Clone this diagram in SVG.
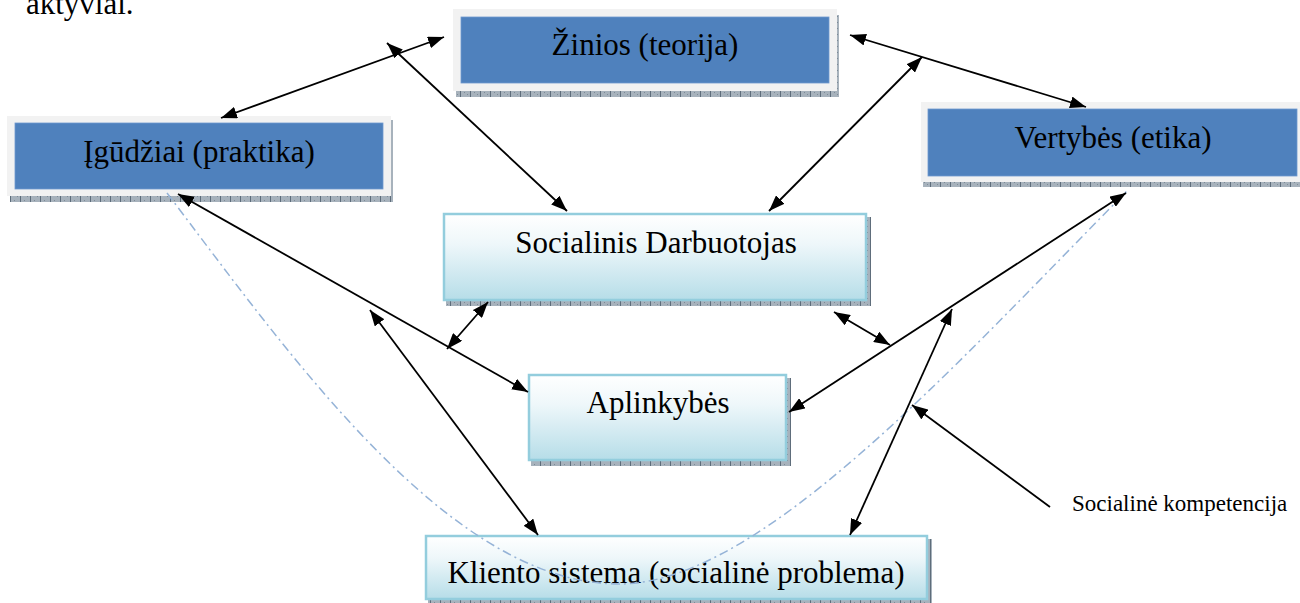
<svg xmlns="http://www.w3.org/2000/svg" width="1300" height="603" viewBox="0 0 1300 603">
<style>
  .lbl{font-family:"Liberation Serif","Times New Roman",serif;font-size:31px;fill:#000;text-anchor:middle}
  .frame{fill:#F2F2F2}
  .blue{fill:#4F81BD;stroke:#6F9AD0;stroke-width:0.8}
  .light{fill:url(#gLight);stroke:#93CDDD;stroke-width:2.5}
  .shadow{fill:url(#tex)}
  .con{stroke:#000;stroke-width:1.8;fill:none}
  .both{marker-start:url(#ah);marker-end:url(#ah)}
  .one{marker-end:url(#ah)}
  .dd{stroke:#95B3D7;stroke-width:1.5;fill:none;stroke-dasharray:9 4 2 4}
</style>
<defs>
  <linearGradient id="gLight" x1="0" y1="0" x2="0" y2="1">
    <stop offset="0" stop-color="#FFFFFF"/>
    <stop offset="0.35" stop-color="#EEF7FA"/>
    <stop offset="1" stop-color="#B6DDE8"/>
  </linearGradient>
  <pattern id="tex" width="10" height="6" patternUnits="userSpaceOnUse">
    <rect width="10" height="6" fill="#A7B2BC"/>
    <rect x="0" y="0" width="1" height="6" fill="#5E6D7B"/>
    <rect x="4" y="2" width="1" height="1" fill="#7C8A96"/>
    <rect x="7" y="4" width="1" height="1" fill="#7C8A96"/>
  </pattern>
  <marker id="ah" viewBox="0 0 16 12" markerWidth="16" markerHeight="12" refX="16" refY="6" orient="auto-start-reverse" markerUnits="userSpaceOnUse">
    <path d="M0,0 L16,6 L0,12 z" fill="#000"/>
  </marker>
</defs>

<text x="26" y="14" style="font-family:'Liberation Serif','Times New Roman',serif;font-size:31px">aktyviai.</text>

<g id="node-zinios">
  <rect class="shadow" x="456" y="15" width="383" height="82"/>
  <rect class="frame" x="453" y="9" width="384" height="82"/>
  <rect class="blue" x="461" y="17" width="368" height="66"/>
  <text class="lbl" x="645" y="55">Žinios (teorija)</text>
</g>

<g id="node-igudziai">
  <rect class="shadow" x="10" y="120" width="383" height="82"/>
  <rect class="frame" x="7" y="116" width="384" height="80"/>
  <rect class="blue" x="15" y="123" width="368" height="66"/>
  <text class="lbl" x="199" y="162">Įgūdžiai (praktika)</text>
</g>

<g id="node-vertybes">
  <rect class="shadow" x="923" y="106" width="380" height="81"/>
  <rect class="frame" x="921" y="102" width="382" height="80"/>
  <rect class="blue" x="928" y="109" width="369" height="67"/>
  <text class="lbl" x="1113" y="148">Vertybės (etika)</text>
</g>

<g id="node-socialinis">
  <rect class="shadow" x="446" y="217" width="425" height="89"/>
  <rect class="light" x="444" y="214" width="422" height="86"/>
  <text class="lbl" x="656" y="253">Socialinis Darbuotojas</text>
</g>

<g id="node-aplinkybes">
  <rect class="shadow" x="531" y="378" width="260" height="88"/>
  <rect class="light" x="529" y="375" width="257" height="85"/>
  <text class="lbl" x="658" y="413">Aplinkybės</text>
</g>

<g id="node-kliento">
  <rect class="shadow" x="428" y="539" width="504" height="64"/>
  <rect class="light" x="426" y="536" width="501" height="63"/>
  <text class="lbl" x="676" y="583">Kliento sistema (socialinė problema)</text>
</g>

<g id="label-kompetencija">
  <text x="1072" y="511" style="font-family:'Liberation Serif','Times New Roman',serif;font-size:23px">Socialinė kompetencija</text>
</g>

<g id="connectors">
  <path class="dd" d="M167,193 C290,355 450,585 620,584 C760,583 950,370 1127,191"/>
  <line class="con both" x1="221" y1="118" x2="444" y2="37"/>
  <line class="con both" x1="387" y1="43" x2="567" y2="211"/>
  <line class="con both" x1="922" y1="57" x2="769" y2="211"/>
  <line class="con both" x1="850" y1="35" x2="1086" y2="107"/>
  <line class="con both" x1="178" y1="194" x2="528" y2="392"/>
  <line class="con both" x1="488" y1="302" x2="447" y2="349"/>
  <line class="con both" x1="370" y1="310" x2="538" y2="535"/>
  <line class="con both" x1="834" y1="312" x2="890" y2="345"/>
  <line class="con both" x1="1126" y1="193" x2="789" y2="412"/>
  <line class="con both" x1="952" y1="309" x2="850" y2="535"/>
  <line class="con one" x1="1050" y1="507" x2="912" y2="405"/>
</g>
</svg>
